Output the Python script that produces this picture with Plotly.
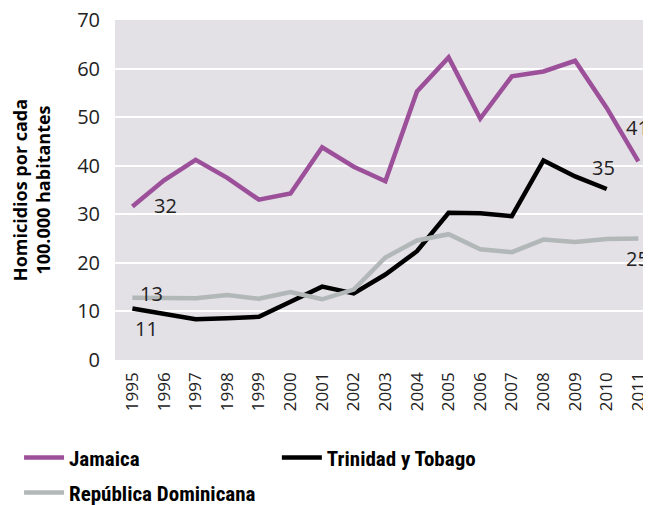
import plotly.graph_objects as go

years = list(range(1995, 2012))
jamaica = [31.6, 37.0, 41.2, 37.5, 33.0, 34.3, 43.8, 39.8, 36.8, 55.3, 62.3, 49.7, 58.4, 59.4, 61.6, 51.9, 40.9]
trinidad = [10.6, 9.6, 8.4, 8.6, 8.9, 12.0, 15.1, 13.7, 17.6, 22.4, 30.3, 30.2, 29.6, 41.1, 37.8, 35.2]
dominicana = [12.8, 12.8, 12.7, 13.4, 12.6, 14.0, 12.5, 14.5, 21.1, 24.6, 25.9, 22.8, 22.2, 24.8, 24.3, 24.9, 25.0]

# value labels: x, y, text, anchor
labels = [
    (1996.06, 31.9, "32", "center"),
    (1995.59, 13.6, "13", "center"),
    (1995.46, 6.4, "11", "center"),
    (2011.4, 47.8, "41", "right"),
    (2009.9, 39.7, "35", "center"),
    (2011.4, 21.0, "25", "right"),
]

fig = go.Figure()
fig.add_trace(go.Scatter(x=years, y=jamaica, mode="lines", name="Jamaica",
                         line=dict(color="#9c509a", width=4.5), legend="legend"))
fig.add_trace(go.Scatter(x=years[:len(trinidad)], y=trinidad, mode="lines", name="Trinidad y Tobago",
                         line=dict(color="#000000", width=4.5), legend="legend2"))
fig.add_trace(go.Scatter(x=years, y=dominicana, mode="lines", name="República Dominicana",
                         line=dict(color="#b2b7b7", width=4.5), legend="legend3"))

for x, y, t, anchor in labels:
    fig.add_annotation(x=x, y=y, text=t, showarrow=False, xanchor=anchor,
                       font=dict(family="Open Sans", size=20, color="#222222"))

fig.update_xaxes(
    range=[1994.45, 2011.4],
    tickvals=years,
    ticktext=[str(y) for y in years],
    tickangle=-90,
    showgrid=False,
    zeroline=False,
    ticks="",
    ticklabelstandoff=8,
    ticklabeloverflow="allow",
    tickfont=dict(family="Open Sans", size=17, color="#222222"),
)
fig.update_yaxes(
    range=[0, 70],
    dtick=10,
    showgrid=True,
    gridcolor="#ffffff",
    gridwidth=2,
    zeroline=False,
    ticks="",
    ticklabelstandoff=14,
    ticklabeloverflow="allow",
    tickfont=dict(family="Open Sans", size=20, color="#222222"),
    title=dict(text="<b>Homicidios por cada<br>100.000 habitantes</b>",
               font=dict(family="Open Sans", size=18, color="#000000"), standoff=23),
)

legend_font = dict(family="Liberation Sans Narrow, Roboto Condensed, Roboto", size=21,
                   color="#000000", weight="bold")
legend_common = dict(xanchor="left", yanchor="middle", font=legend_font,
                     bgcolor="rgba(0,0,0,0)", itemwidth=40)

fig.update_layout(
    width=643,
    height=497,
    plot_bgcolor="#e3e0e6",
    paper_bgcolor="#ffffff",
    margin=dict(l=107, r=0, t=12, b=145, autoexpand=False),
    showlegend=True,
    legend=dict(x=-0.179, y=-0.288, **legend_common),
    legend2=dict(x=0.302, y=-0.288, **legend_common),
    legend3=dict(x=-0.179, y=-0.391, **legend_common),
)

fig.write_html("out.html")
